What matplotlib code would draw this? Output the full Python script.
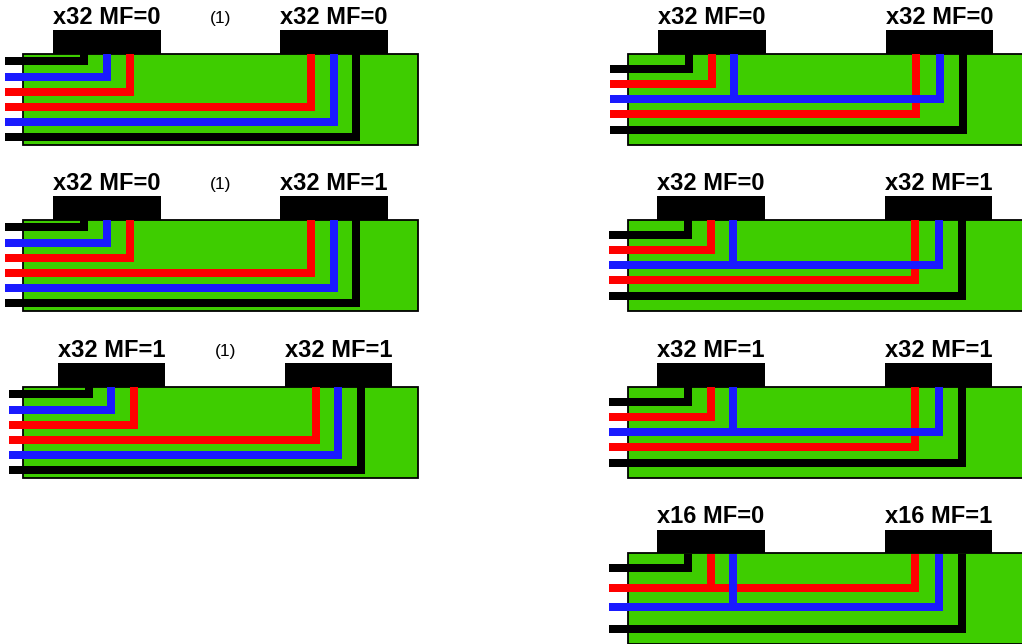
import matplotlib
matplotlib.use("Agg")
import matplotlib.pyplot as plt
from matplotlib.patches import Rectangle

plt.rcParams['font.family'] = ['Liberation Sans', 'DejaVu Sans']

GREEN = '#3ecd00'
BLACK = '#000000'
RED = '#ff0000'
BLUE = '#1a1aff'

# labels above the chips, one pair per panel
left_labels = [("x32 MF=0", "x32 MF=0"), ("x32 MF=0", "x32 MF=1"), ("x32 MF=1", "x32 MF=1")]
right_labels = [("x32 MF=0", "x32 MF=0"), ("x32 MF=0", "x32 MF=1"),
                ("x32 MF=1", "x32 MF=1"), ("x16 MF=0", "x16 MF=1")]

# board top edge (pixels) for every panel
left_tops = [53.5, 219.5, 386.5]
right_tops = [53.5, 219.5, 386.5, 553]
# shift of chips + traces inside the board
left_shift = [0, 0, 4.6]
right_shift = [0, -1, -1, -1]

# traces: colour, y below board top, x of the riser
six_colors = [BLACK, BLUE, RED, RED, BLUE, BLACK]
six_rows = [7.8, 23.2, 38.2, 53.5, 68.5, 83.5]
six_risers = [84, 106.7, 129.5, 311, 333.7, 356]

five_colors = [BLACK, RED, BLUE, RED, BLACK]
five_rows = [15.5, 30.5, 45.8, 60.8, 76.0]
five_risers = [689, 712, 940, 916, 962.5]
five_extra = [(BLUE, 734, 45.8)]

four_colors = [BLACK, RED, BLUE, BLACK]
four_rows = [15.0, 34.7, 54.3, 75.7]
four_risers = [689, 916, 940, 962.5]
four_extra = [(RED, 712, 34.7), (BLUE, 734, 54.3)]


def board(ax, x0, x1, top, bottom):
    ax.add_patch(Rectangle((x0, top), x1 - x0, bottom - top, facecolor=GREEN,
                           edgecolor='black', lw=1.3, zorder=1))


def chips(ax, lefts, top, labels):
    for x, lab in zip(lefts, labels):
        ax.add_patch(Rectangle((x, top - 23.5), 107.5, 23.5, facecolor='black',
                               edgecolor='none', zorder=2))
        ax.text(x + 54, top - 30, lab, fontsize=17, fontweight='bold', ha='center',
                va='baseline', zorder=5)


fig = plt.figure(figsize=(10.22, 6.44), dpi=100)
ax = fig.add_axes([0, 0, 1, 1])
ax.set_xlim(0, 1022)
ax.set_ylim(644, 0)
ax.axis('off')

# left column
for top, labs, dx in zip(left_tops, left_labels, left_shift):
    board(ax, 23.3, 417.5, top, top + 91.5)
    chips(ax, [53 + dx, 280 + dx], top, labs)
    ax.text(221 + dx, top - 31, "(1)", fontsize=12.5, ha='center', va='baseline')
    for c, r, x in zip(six_colors, six_rows, six_risers):
        y = top + r
        ax.plot([4.5 + dx, x + dx, x + dx], [y, y, top + 0.5], color=c, lw=5.76,
                solid_capstyle='butt', solid_joinstyle='miter', zorder=4 if c == BLUE else 3)

# right column
for i, (top, labs, dx) in enumerate(zip(right_tops, right_labels, right_shift)):
    board(ax, 628.3, 1023, top, top + 91)
    chips(ax, [658 + dx, 885.7 + dx], top, labs)
    if i < 3:
        cols, rows, risers, extra = five_colors, five_rows, five_risers, five_extra
    else:
        cols, rows, risers, extra = four_colors, four_rows, four_risers, four_extra
    for c, r, x in zip(cols, rows, risers):
        y = top + r
        ax.plot([609.5 + dx, x + dx, x + dx], [y, y, top + 0.5], color=c, lw=5.76,
                solid_capstyle='butt', solid_joinstyle='miter', zorder=4 if c == BLUE else 3)
    for c, x, r in extra:
        ax.plot([x + dx, x + dx], [top + 0.5, top + r], color=c, lw=5.76,
                solid_capstyle='butt', zorder=4 if c == BLUE else 3)

fig.savefig("out.png", dpi=100)
